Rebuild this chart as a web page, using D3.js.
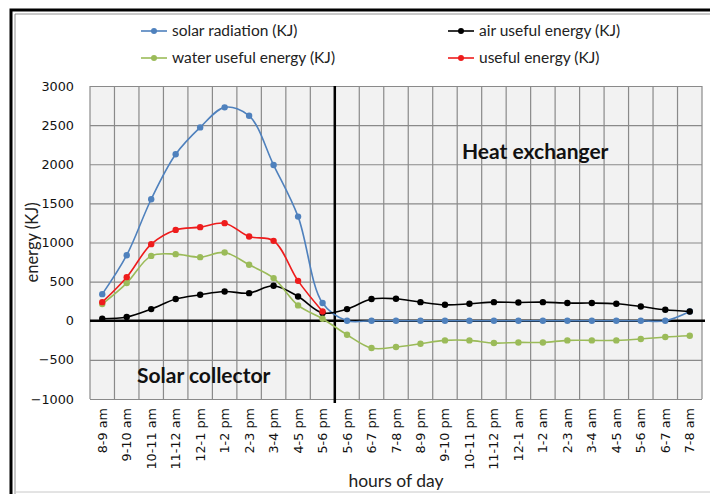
<!DOCTYPE html>
<html>
<head>
<meta charset="utf-8">
<script src="https://cdn.jsdelivr.net/npm/d3@7"></script>
<style>
  body { margin: 0; background: #fff; }
  svg { display: block; }
</style>
</head>
<body>
<script>
// hours of the day (collector runs 8 am - 6 pm, exchanger 5 pm - 8 am)
const hours = ['8-9 am', '9-10 am', '10-11 am', '11-12 am', '12-1 pm', '1-2 pm', '2-3 pm', '3-4 pm', '4-5 pm', '5-6 pm',
  '5-6 pm', '6-7 pm', '7-8 pm', '8-9 pm', '9-10 pm', '10-11 pm', '11-12 pm', '12-1 am', '1-2 am', '2-3 am',
  '3-4 am', '4-5 am', '5-6 am', '6-7 am', '7-8 am']

const solar = [340, 838, 1553, 2127, 2471, 2727, 2620, 1990, 1331, 226,
  0, 0, 0, 0, 0, 0, 0, 0, 0, 0, 0, 0, 0, 0, 119]
const air = [26, 47, 149, 277, 332, 374, 353, 447, 310, 100,
  149, 277, 281, 238, 204, 217, 238, 234, 238, 226, 226, 217, 183, 140, 119]
const water = [213, 481, 829, 851, 813, 872, 715, 545, 196, 26,
  -179, -349, -336, -293, -251, -251, -285, -277, -277, -251, -251, -251, -234, -208, -191]
const useful = [238, 557, 979, 1161, 1196, 1247, 1076, 1021, 510, 119,
  null, null, null, null, null, null, null, null, null, null, null, null, null, null, null]

const yTicks = [-1000, -500, 0, 500, 1000, 1500, 2000, 2500, 3000]

const series = [
  { name: 'solar radiation (KJ)', values: solar, color: '#4f81bd' },
  { name: 'air useful energy (KJ)', values: air, color: '#000000' },
  { name: 'water useful energy (KJ)', values: water, color: '#9bbb59' },
  { name: 'useful energy (KJ)', values: useful, color: '#ee1c1c' }
]

const width = 710
const height = 494
const plot = { left: 90, top: 86, right: 702, bottom: 399 }

const svg = d3.select('body').append('svg')
  .attr('width', width)
  .attr('height', height)

// outer chart frame
svg.append('path')
  .attr('d', `M11,${height + 5} V10 H${width + 5}`)
  .attr('fill', 'none')
  .attr('stroke', '#000')
  .attr('stroke-width', 3)
svg.append('path')
  .attr('d', `M15,${height + 5} V14 H${width + 5}`)
  .attr('fill', 'none')
  .attr('stroke', '#777')
  .attr('stroke-width', 0.8)
svg.append('line')
  .attr('x1', 15).attr('x2', width)
  .attr('y1', 492).attr('y2', 492)
  .attr('stroke', '#c8c8c8')
  .attr('stroke-width', 1)

const x = d3.scaleBand()
  .domain(d3.range(hours.length))
  .range([plot.left, plot.right])
  .padding(0)

const y = d3.scaleLinear()
  .domain([-1000, 3000])
  .range([plot.bottom, plot.top])

const cx = i => x(i) + x.bandwidth() / 2

svg.append('rect')
  .attr('x', plot.left)
  .attr('y', plot.top)
  .attr('width', plot.right - plot.left)
  .attr('height', plot.bottom - plot.top)
  .attr('fill', '#f2f2f2')

// horizontal grid + y labels
const yAxis = svg.append('g')
  .attr('transform', `translate(${plot.left},0)`)
  .call(d3.axisLeft(y).tickValues(yTicks).tickSize(-(plot.right - plot.left)).tickPadding(16).tickFormat(d3.format('d')))
yAxis.select('.domain').remove()
yAxis.selectAll('.tick line').attr('stroke', '#8a8a8a').attr('stroke-width', 1.2)
yAxis.selectAll('.tick text')
  .attr('font-family', 'DejaVu Sans, sans-serif')
  .attr('font-size', 12.8)
  .attr('fill', '#111')

// vertical grid at category boundaries
const bounds = d3.range(hours.length + 1).map(i => plot.left + i * x.bandwidth())
svg.append('g')
  .selectAll('line')
  .data(bounds)
  .join('line')
  .attr('x1', d => d).attr('x2', d => d)
  .attr('y1', plot.top).attr('y2', plot.bottom)
  .attr('stroke', '#8a8a8a')
  .attr('stroke-width', 1.2)

// x labels
svg.append('g')
  .selectAll('text')
  .data(hours)
  .join('text')
  .attr('transform', (d, i) => `translate(${cx(i) + 4.5},${plot.bottom + 9}) rotate(-90)`)
  .attr('text-anchor', 'end')
  .attr('font-family', 'DejaVu Sans, sans-serif')
  .attr('font-size', 12.8)
  .attr('fill', '#111')
  .text(d => d)

// zero axis and split line
svg.append('line')
  .attr('x1', plot.left).attr('x2', plot.right + 3)
  .attr('y1', y(0)).attr('y2', y(0))
  .attr('stroke', '#000')
  .attr('stroke-width', 2.5)
svg.append('line')
  .attr('x1', x(10)).attr('x2', x(10))
  .attr('y1', plot.top).attr('y2', plot.bottom + 4)
  .attr('stroke', '#000')
  .attr('stroke-width', 2.5)

const line = d3.line()
  .defined(d => d != null)
  .x((d, i) => cx(i))
  .y(d => y(d))
  .curve(d3.curveCatmullRom.alpha(0.5))

const lines = svg.append('g')
series.forEach(s => {
  lines.append('path')
    .datum(s.values)
    .attr('fill', 'none')
    .attr('stroke', s.color)
    .attr('stroke-width', 1.6)
    .attr('d', line)
  lines.append('g')
    .selectAll('circle')
    .data(s.values.map((v, i) => [i, v]).filter(d => d[1] != null))
    .join('circle')
    .attr('cx', d => cx(d[0]))
    .attr('cy', d => y(d[1]))
    .attr('r', 3.2)
    .attr('fill', s.color)
})

// annotations
svg.append('text')
  .attr('x', 462).attr('y', 159)
  .attr('font-family', 'Lato, sans-serif')
  .attr('font-weight', 'bold')
  .attr('font-size', 21)
  .attr('fill', '#111')
  .text('Heat exchanger')
svg.append('text')
  .attr('x', 137).attr('y', 383)
  .attr('font-family', 'Lato, sans-serif')
  .attr('font-weight', 'bold')
  .attr('font-size', 21)
  .attr('fill', '#111')
  .text('Solar collector')

// axis titles
svg.append('text')
  .attr('transform', `translate(38,${(plot.top + plot.bottom) / 2}) rotate(-90)`)
  .attr('text-anchor', 'middle')
  .attr('font-family', 'Lato, sans-serif')
  .attr('font-size', 16.5)
  .attr('fill', '#222')
  .text('energy (KJ)')
svg.append('text')
  .attr('x', 396).attr('y', 487)
  .attr('text-anchor', 'middle')
  .attr('font-family', 'Lato, sans-serif')
  .attr('font-size', 17.5)
  .attr('fill', '#222')
  .text('hours of day')

// legend
const legendPos = [[141, 31], [448, 31], [141, 58], [448, 58]]
const legend = svg.append('g')
  .selectAll('g')
  .data(series)
  .join('g')
  .attr('transform', (d, i) => `translate(${legendPos[i][0]},${legendPos[i][1]})`)
legend.append('line')
  .attr('x1', 0).attr('x2', 26)
  .attr('stroke', d => d.color)
  .attr('stroke-width', 1.6)
legend.append('circle')
  .attr('cx', 13)
  .attr('r', 3)
  .attr('fill', d => d.color)
legend.append('text')
  .attr('x', 31)
  .attr('dy', '0.35em')
  .attr('font-family', 'Lato, sans-serif')
  .attr('font-size', 15.5)
  .attr('fill', '#222')
  .text(d => d.name)
</script>
</body>
</html>
